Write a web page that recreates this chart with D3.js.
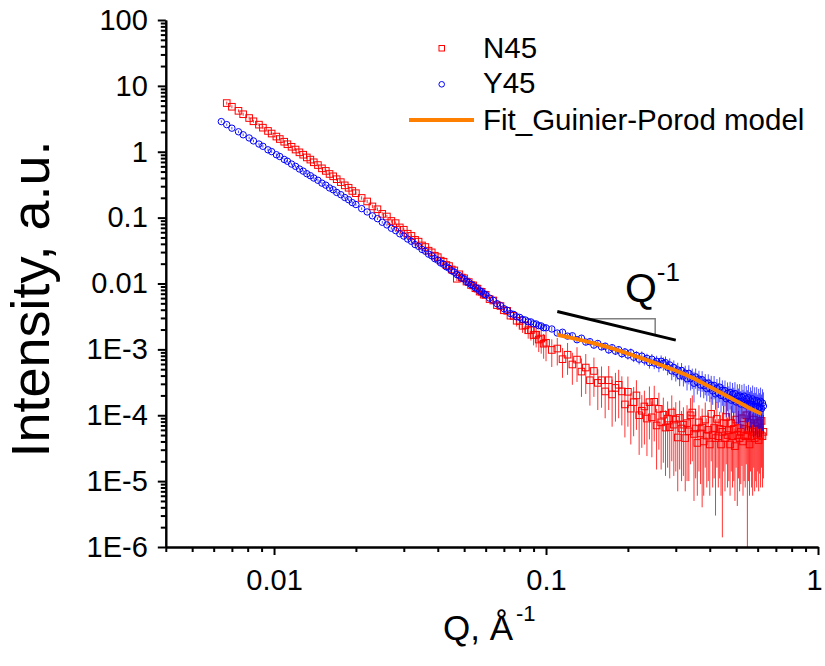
<!DOCTYPE html>
<html>
<head>
<meta charset="utf-8">
<script src="https://cdn.jsdelivr.net/npm/d3@7"></script>
<style>
body { margin: 0; background: #fff; }
text { font-family: "Liberation Sans", Arial, sans-serif; fill: #000; }
</style>
</head>
<body>
<script>
// N45 : [Q, I, error]
var n45 = [
[0.0067,5.48,0.30],[0.0070,4.82,0.26],[0.0074,4.18,0.22],[0.0077,3.71,0.20],[0.0081,3.25,0.17],
[0.0084,2.90,0.15],[0.0088,2.58,0.13],[0.0091,2.32,0.12],[0.0095,2.07,0.11],[0.0098,1.89,0.10],
[0.0102,1.70,0.09],[0.0105,1.56,0.08],[0.0109,1.42,0.07],[0.0112,1.30,0.07],[0.0116,1.19,0.06],
[0.0120,1.08,0.06],[0.0124,0.980,0.05],[0.0128,0.902,0.05],[0.0132,0.820,0.045],[0.0136,0.760,0.04],
[0.0140,0.692,0.04],[0.0145,0.628,0.035],[0.0150,0.560,0.03],[0.0155,0.512,0.03],[0.0160,0.460,0.025],
[0.0165,0.424,0.025],[0.0170,0.383,0.022],[0.0176,0.346,0.02],[0.0182,0.309,0.018],[0.0188,0.284,0.016],
[0.0194,0.254,0.015],[0.0200,0.235,0.014],
[0.021,0.199,0.012],[0.022,0.176,0.011],[0.023,0.148,0.009],[0.024,0.134,0.008],[0.025,0.114,0.007],
[0.026,0.104,0.006],[0.027,0.089,0.0055],[0.028,0.0825,0.005],[0.029,0.0710,0.0045],[0.030,0.0655,0.004],
[0.031,0.0570,0.0035],[0.032,0.0528,0.0032],[0.033,0.0460,0.0028],[0.034,0.0432,0.0026],[0.035,0.0378,0.0023],
[0.036,0.0358,0.0021],[0.037,0.0315,0.0019],[0.038,0.0297,0.0018],[0.039,0.0264,0.0016],[0.040,0.0251,0.0015],
[0.041,0.0222,0.0014],[0.042,0.0214,0.0013],[0.043,0.0191,0.0012],[0.044,0.0184,0.0011],[0.045,0.0163,0.0010],
[0.046,0.0158,0.0010],[0.047,0.0118,0.0009],[0.048,0.0138,0.0009],[0.049,0.0123,0.0008],[0.050,0.0120,0.0008],
[0.051,0.0107,0.0007],[0.052,0.0105,0.0007],[0.053,0.00950,0.0006],[0.054,0.00935,0.0006],[0.055,0.00848,0.0006],
[0.056,0.00835,0.0005],[0.057,0.00755,0.0005],[0.058,0.00748,0.0005],[0.059,0.00678,0.0005],[0.060,0.00672,0.0005],
[0.062,0.00580,0.0005],[0.064,0.00552,0.0005],[0.066,0.00470,0.0005],[0.068,0.00455,0.0005],[0.070,0.00392,0.0004],
[0.072,0.00385,0.0004],[0.074,0.00325,0.0004],[0.076,0.00322,0.0005],[0.078,0.00272,0.0005],[0.080,0.00270,0.0006],
[0.082,0.00228,0.0005],[0.084,0.00232,0.0006],[0.086,0.00195,0.0005],[0.088,0.00196,0.0006],[0.090,0.00165,0.0005],
[0.092,0.00167,0.0006],[0.094,0.00141,0.0005],[0.096,0.00146,0.0006],[0.098,0.00122,0.0005],[0.100,0.00126,0.0006],
[0.105,9.8e-4,4.4e-4],[0.110,1.03e-3,4.6e-4],[0.115,7.1e-4,3.4e-4],[0.120,8.3e-4,4.2e-4],[0.125,5.9e-4,3.0e-4],
[0.130,7.0e-4,3.8e-4],[0.135,4.6e-4,2.7e-4],[0.140,5.3e-4,3.2e-4],[0.145,3.4e-4,2.0e-4],[0.150,4.7e-4,2.8e-4],
[0.155,3.1e-4,1.9e-4],[0.160,3.4e-4,2.1e-4],[0.165,2.3e-4,1.4e-4],[0.170,3.4e-4,2.2e-4],[0.175,2.07e-4,1.4e-4],
[0.180,2.6e-4,1.8e-4],[0.185,2.9e-4,2.0e-4],[0.190,2.3e-4,1.6e-4],[0.195,1.46e-4,1.0e-4],[0.200,2.27e-4,1.6e-4],
[0.205,1.26e-4,0.9e-4],[0.210,1.58e-4,1.1e-4],[0.215,2.0e-4,1.4e-4],[0.220,1.0e-4,0.75e-4],[0.225,1.17e-4,0.85e-4],
[0.230,1.36e-4,1.0e-4],[0.235,8.9e-5,6.5e-5],[0.240,1.58e-4,1.15e-4],[0.245,9.3e-5,7.0e-5],[0.250,1.6e-4,1.2e-4],
[0.255,7.0e-5,5.5e-5],[0.260,1.25e-4,9.5e-5],[0.265,7.8e-5,6.3e-5],[0.270,1.02e-4,8.3e-5],[0.275,6.5e-5,5.3e-5],
[0.280,8.9e-5,7.3e-5],[0.285,6.6e-5,5.5e-5],[0.290,1.1e-4,9.0e-5],[0.295,7.2e-5,6.0e-5],[0.300,8.6e-5,7.2e-5],
[0.305,4.6e-5,3.9e-5],[0.310,9.1e-5,7.6e-5],[0.315,6.3e-5,5.3e-5],[0.320,7.2e-5,6.0e-5],[0.325,4.5e-5,3.8e-5],
[0.330,7.6e-5,6.6e-5],[0.335,5.7e-5,4.7e-5],[0.340,1.0e-4,8.2e-5],[0.345,1.1e-4,9.0e-5],[0.350,5.2e-5,4.7e-5],
[0.355,6.3e-5,5.2e-5],[0.360,3.8e-5,3.2e-5],[0.365,7.8e-5,6.4e-5],[0.370,5.3e-5,4.4e-5],[0.375,6.5e-5,6.1e-5],
[0.380,4.0e-5,3.4e-5],[0.385,8.6e-5,7.0e-5],[0.390,4.9e-5,4.1e-5],[0.395,6.0e-5,5.0e-5],[0.400,3.6e-5,3.0e-5],
[0.405,1.05e-4,8.5e-5],[0.410,5.0e-5,4.2e-5],[0.415,6.4e-5,5.3e-5],[0.420,4.5e-5,4.2e-5],[0.425,8.8e-5,7.2e-5],
[0.430,4.8e-5,4.0e-5],[0.435,6.2e-5,5.1e-5],[0.440,3.6e-5,3.0e-5],[0.445,5.6e-5,5.46e-5],[0.450,7.6e-5,6.2e-5],
[0.455,4.5e-5,3.8e-5],[0.460,9.4e-5,7.6e-5],[0.465,5.0e-5,4.2e-5],[0.470,5.9e-5,4.9e-5],[0.475,3.6e-5,3.0e-5],
[0.480,7.6e-5,6.2e-5],[0.485,4.8e-5,4.0e-5],[0.490,6.2e-5,5.2e-5],[0.495,3.4e-5,2.9e-5],[0.500,8.6e-5,7.0e-5],
[0.505,5.0e-5,4.58e-5],[0.510,6.4e-5,5.3e-5],[0.515,4.5e-5,3.8e-5],[0.520,5.6e-5,4.7e-5],[0.525,9.0e-5,7.3e-5],
[0.530,4.0e-5,3.4e-5],[0.535,6.2e-5,5.2e-5],[0.540,4.8e-5,4.0e-5],[0.545,1.0e-4,8.2e-5],[0.550,5.0e-5,4.99e-5],
[0.555,5.9e-5,4.9e-5],[0.560,3.6e-5,3.0e-5],[0.565,7.6e-5,6.2e-5],[0.570,4.8e-5,4.0e-5],[0.575,5.6e-5,5.0e-5],
[0.580,8.6e-5,7.0e-5],[0.585,4.5e-5,3.8e-5],[0.590,6.2e-5,5.2e-5],[0.595,5.0e-5,4.2e-5],[0.600,7.6e-5,6.2e-5],
[0.605,4.2e-5,3.5e-5],[0.610,5.9e-5,4.6e-5],[0.615,5.0e-5,4.2e-5],[0.620,8.2e-5,6.6e-5],[0.625,4.8e-5,4.0e-5],
[0.630,5.6e-5,4.5e-5]
];

// Y45 : [Q, I, error]
var y45 = [
[0.0064,2.87,0.12],[0.0067,2.58,0.11],[0.0070,2.28,0.10],[0.0074,2.01,0.09],[0.0077,1.81,0.08],
[0.0081,1.62,0.07],[0.0084,1.46,0.065],[0.0088,1.31,0.06],[0.0091,1.21,0.055],[0.0095,1.07,0.05],
[0.0098,1.005,0.045],[0.0102,0.902,0.04],[0.0105,0.846,0.04],[0.0109,0.764,0.035],[0.0112,0.718,0.033],
[0.0116,0.650,0.03],[0.0120,0.600,0.028],[0.0124,0.547,0.025],[0.0128,0.508,0.023],[0.0132,0.464,0.021],
[0.0136,0.433,0.02],[0.0140,0.399,0.018],[0.0145,0.369,0.017],[0.0150,0.334,0.015],[0.0155,0.311,0.014],
[0.0160,0.282,0.013],[0.0165,0.265,0.012],[0.0170,0.241,0.011],[0.0176,0.223,0.010],[0.0182,0.202,0.009],
[0.0188,0.187,0.0085],[0.0194,0.169,0.008],[0.0200,0.158,0.007],
[0.021,0.137,0.006],[0.022,0.122,0.0055],[0.023,0.1065,0.005],[0.024,0.0965,0.0045],[0.025,0.0850,0.004],
[0.026,0.0775,0.0035],[0.027,0.0690,0.003],[0.028,0.0635,0.0028],[0.029,0.0568,0.0025],[0.030,0.0525,0.0023],
[0.031,0.0473,0.0021],[0.032,0.0437,0.0019],[0.033,0.0390,0.0017],[0.034,0.0366,0.0016],[0.035,0.0329,0.0015],
[0.036,0.0309,0.0014],[0.037,0.0279,0.0013],[0.038,0.0263,0.0012],[0.039,0.0238,0.0011],[0.040,0.0226,0.0010],
[0.041,0.0205,0.0009],[0.042,0.0196,0.0009],[0.043,0.0179,0.0008],[0.044,0.0171,0.0008],[0.045,0.0156,0.0007],
[0.046,0.0149,0.0007],[0.047,0.0137,0.0006],[0.048,0.0132,0.0006],[0.049,0.0121,0.0006],[0.050,0.0117,0.0005],
[0.051,0.0107,0.0005],[0.052,0.0104,0.0005],[0.053,0.00962,0.0005],[0.054,0.00930,0.0004],[0.055,0.00860,0.0004],
[0.056,0.00832,0.0004],[0.057,0.00770,0.0004],[0.058,0.00750,0.0004],[0.059,0.00693,0.0003],[0.060,0.00676,0.0003],
[0.062,0.00600,0.0003],[0.064,0.00556,0.0003],[0.066,0.00494,0.0003],[0.068,0.00461,0.0003],[0.070,0.00415,0.0003],
[0.072,0.00391,0.0003],[0.074,0.00350,0.0003],[0.076,0.00340,0.0003],[0.078,0.00312,0.0002],[0.080,0.00306,0.0002],
[0.082,0.00284,0.0002],[0.084,0.00279,0.0002],[0.086,0.00262,0.0002],[0.088,0.00261,0.0002],[0.090,0.00244,0.0002],
[0.092,0.00243,0.0002],[0.094,0.00229,0.0002],[0.096,0.00227,0.0002],[0.098,0.00213,0.0002],[0.100,0.00212,0.0002],
[0.105,2.04e-3,1.6e-4],[0.110,1.77e-3,1.5e-4],[0.115,1.82e-3,1.5e-4],[0.120,1.59e-3,1.4e-4],[0.125,1.61e-3,1.4e-4],
[0.130,1.40e-3,1.3e-4],[0.135,1.48e-3,1.4e-4],[0.140,1.29e-3,1.3e-4],[0.145,1.31e-3,1.3e-4],[0.150,1.16e-3,1.2e-4],
[0.155,1.23e-3,1.3e-4],[0.160,1.09e-3,1.2e-4],[0.165,1.12e-3,1.3e-4],[0.170,9.8e-4,1.2e-4],[0.175,1.06e-3,1.3e-4],
[0.180,9.4e-4,1.2e-4],[0.185,9.9e-4,1.3e-4],[0.190,8.6e-4,1.2e-4],[0.195,9.15e-4,1.3e-4],[0.200,8.2e-4,1.2e-4],
[0.205,8.9e-4,1.4e-4],[0.210,7.6e-4,1.2e-4],[0.215,8.1e-4,1.3e-4],[0.220,7.1e-4,1.2e-4],[0.225,7.9e-4,1.4e-4],
[0.230,6.9e-4,1.2e-4],[0.235,7.3e-4,1.3e-4],[0.240,6.3e-4,1.2e-4],[0.245,7.1e-4,1.4e-4],[0.250,6.2e-4,1.2e-4],
[0.255,6.6e-4,1.4e-4],[0.260,5.8e-4,1.3e-4],[0.265,6.6e-4,1.5e-4],[0.270,6.15e-4,1.4e-4],[0.275,6.3e-4,1.5e-4],
[0.280,5.35e-4,1.3e-4],[0.285,5.8e-4,1.5e-4],[0.290,4.7e-4,1.3e-4],[0.295,5.3e-4,1.5e-4],[0.300,4.55e-4,1.3e-4],
[0.305,4.87e-4,1.4e-4],[0.310,3.96e-4,1.2e-4],[0.315,4.8e-4,1.4e-4],[0.320,3.93e-4,1.2e-4],[0.325,4.35e-4,1.3e-4],
[0.330,3.58e-4,1.2e-4],[0.335,4.33e-4,1.4e-4],[0.340,3.58e-4,1.2e-4],[0.345,3.80e-4,1.3e-4],[0.350,3.06e-4,1.5e-4],
[0.355,3.82e-4,1.3e-4],[0.360,3.17e-4,1.1e-4],[0.365,3.54e-4,1.2e-4],[0.370,2.87e-4,1.0e-4],[0.375,3.47e-4,1.2e-4],
[0.380,2.81e-4,1.0e-4],[0.385,3.11e-4,1.1e-4],[0.390,2.53e-4,0.9e-4],[0.395,3.08e-4,1.1e-4],[0.400,2.58e-4,1.0e-4],
[0.405,2.86e-4,1.1e-4],[0.410,2.34e-4,0.9e-4],[0.415,2.84e-4,1.1e-4],[0.420,2.11e-4,0.9e-4],[0.425,2.55e-4,1.0e-4],
[0.430,2.19e-4,0.9e-4],[0.435,2.67e-4,1.1e-4],[0.440,2.0e-4,0.9e-4],[0.445,2.39e-4,1.0e-4],[0.450,1.95e-4,0.9e-4],
[0.455,2.37e-4,1.0e-4],[0.460,1.78e-4,0.85e-4],[0.465,2.15e-4,1.0e-4],[0.470,1.85e-4,0.9e-4],[0.475,2.22e-4,1.0e-4],
[0.480,1.69e-4,0.85e-4],[0.485,2.09e-4,1.0e-4],[0.490,1.72e-4,0.9e-4],[0.495,2.13e-4,1.05e-4],[0.500,1.59e-4,0.85e-4],
[0.505,1.95e-4,1.0e-4],[0.510,1.64e-4,0.9e-4],[0.515,1.97e-4,1.0e-4],[0.520,1.48e-4,0.85e-4],[0.525,1.89e-4,1.0e-4],
[0.530,1.53e-4,0.9e-4],[0.535,1.95e-4,1.05e-4],[0.540,1.43e-4,0.85e-4],[0.545,1.77e-4,1.0e-4],[0.550,1.50e-4,0.9e-4],
[0.555,1.84e-4,1.05e-4],[0.560,1.40e-4,0.85e-4],[0.565,1.65e-4,1.0e-4],[0.570,1.45e-4,0.9e-4],[0.575,1.77e-4,1.05e-4],
[0.580,1.32e-4,0.85e-4],[0.585,1.66e-4,1.0e-4],[0.590,1.34e-4,0.85e-4],[0.595,1.67e-4,1.0e-4],[0.600,1.26e-4,0.8e-4],
[0.605,1.57e-4,0.95e-4],[0.610,1.32e-4,0.85e-4],[0.615,1.63e-4,1.0e-4],[0.620,1.26e-4,0.8e-4],[0.625,1.53e-4,0.95e-4],
[0.630,1.38e-4,0.85e-4]
];

// Guinier-Porod fit
var fitQ = [0.11, 0.13, 0.15, 0.17, 0.20, 0.23, 0.26, 0.30, 0.35, 0.40, 0.45, 0.50, 0.55, 0.60, 0.62];
var fitI = [1.67e-3, 1.43e-3, 1.24e-3, 1.07e-3, 8.6e-4, 7.1e-4, 5.9e-4, 4.75e-4, 3.6e-4, 2.7e-4, 2.08e-4, 1.65e-4, 1.33e-4, 1.12e-4, 1.05e-4];

// Q^-1 guide, in data units
var slopeLine = [[0.11, 3.76e-3], [0.30, 1.38e-3]];
var slopeGuide = [[0.1415, 2.92e-3], [0.252, 2.92e-3], [0.252, 1.64e-3]];

var xMajor = [0.01, 0.1, 1];
var xMajorLabels = ["0.01", "0.1", "1"];
var yMajor = [100, 10, 1, 0.1, 0.01, 1e-3, 1e-4, 1e-5, 1e-6];
var yMajorLabels = ["100", "10", "1", "0.1", "0.01", "1E-3", "1E-4", "1E-5", "1E-6"];

var seriesNames = ["N45", "Y45", "Fit_Guinier-Porod model"];

var red = "#ff0000", blue = "#0000ff", orange = "#ff8000";

var svg = d3.select("body").append("svg")
	.attr("width", 825)
	.attr("height", 666);

var x = d3.scaleLog().domain([0.004, 1]).range([165.8, 818]);
var y = d3.scaleLog().domain([1e-6, 100]).range([547, 20]);

// minor ticks 2..9 per decade
var xMinor = [], yMinor = [];
[0.001, 0.01, 0.1].forEach(function(d) {
	for (var k = 2; k <= 9; k++) {
		var v = +(k * d).toPrecision(3);
		if (v >= 0.004 && v <= 1) xMinor.push(v);
	}
});
[1e-6, 1e-5, 1e-4, 1e-3, 0.01, 0.1, 1, 10].forEach(function(d) {
	for (var k = 2; k <= 9; k++) yMinor.push(+(k * d).toPrecision(3));
});

svg.append("defs").append("clipPath").attr("id", "plotclip")
	.append("rect")
	.attr("x", x.range()[0])
	.attr("y", y.range()[1])
	.attr("width", x.range()[1] - x.range()[0])
	.attr("height", y.range()[0] - y.range()[1]);

var plot = svg.append("g").attr("clip-path", "url(#plotclip)");

function errLow(d) {
	return y(Math.max(d[1] - d[2], 1e-8));
}

// N45 error bars + squares
plot.append("g").selectAll("line")
	.data(n45).enter().append("line")
	.attr("x1", function(d) { return x(d[0]); })
	.attr("x2", function(d) { return x(d[0]); })
	.attr("y1", errLow)
	.attr("y2", function(d) { return y(d[1] + d[2]); })
	.style("stroke", red)
	.style("stroke-opacity", 0.8)
	.style("stroke-width", 1);

plot.append("g").selectAll("rect")
	.data(n45).enter().append("rect")
	.attr("x", function(d) { return x(d[0]) - 3.3; })
	.attr("y", function(d) { return y(d[1]) - 3.3; })
	.attr("width", 6.6)
	.attr("height", 6.6)
	.style("fill", "none")
	.style("stroke", red)
	.style("stroke-width", 1);

// Y45 error bars + circles
plot.append("g").selectAll("line")
	.data(y45).enter().append("line")
	.attr("x1", function(d) { return x(d[0]); })
	.attr("x2", function(d) { return x(d[0]); })
	.attr("y1", errLow)
	.attr("y2", function(d) { return y(d[1] + d[2]); })
	.style("stroke", blue)
	.style("stroke-opacity", 0.7)
	.style("stroke-width", 1);

plot.append("g").selectAll("circle")
	.data(y45).enter().append("circle")
	.attr("cx", function(d) { return x(d[0]); })
	.attr("cy", function(d) { return y(d[1]); })
	.attr("r", 3.2)
	.style("fill", "none")
	.style("stroke", blue)
	.style("stroke-width", 1);

// fit
var fitLine = d3.line()
	.x(function(d, i) { return x(fitQ[i]); })
	.y(function(d, i) { return y(fitI[i]); })
	.curve(d3.curveMonotoneX);

plot.append("path")
	.datum(fitQ)
	.attr("d", fitLine)
	.style("fill", "none")
	.style("stroke", orange)
	.style("stroke-width", 4);

// Q^-1 guide
var guide = d3.line()
	.x(function(d) { return x(d[0]); })
	.y(function(d) { return y(d[1]); });

svg.append("path").datum(slopeGuide).attr("d", guide)
	.style("fill", "none").style("stroke", "#808080").style("stroke-width", 1.5);
svg.append("path").datum(slopeLine).attr("d", guide)
	.style("fill", "none").style("stroke", "#000").style("stroke-width", 3);

var qLabel = svg.append("text")
	.attr("x", x(0.2) - 3)
	.attr("y", 302)
	.style("font-size", "41px");
qLabel.append("tspan").text("Q");
qLabel.append("tspan").attr("dy", -21).style("font-size", "26px").text("-1");

// axes
var xAxis = d3.axisBottom(x)
	.tickValues(xMajor)
	.tickFormat(function(d, i) { return xMajorLabels[i]; })
	.tickSize(8)
	.tickSizeOuter(0)
	.tickPadding(14);

var xAxisMinor = d3.axisBottom(x)
	.tickValues(xMinor)
	.tickFormat("")
	.tickSize(5)
	.tickSizeOuter(0);

var yAxis = d3.axisLeft(y)
	.tickValues(yMajor)
	.tickFormat(function(d, i) { return yMajorLabels[i]; })
	.tickSize(8)
	.tickSizeOuter(0)
	.tickPadding(10);

var yAxisMinor = d3.axisLeft(y)
	.tickValues(yMinor)
	.tickFormat("")
	.tickSize(5)
	.tickSizeOuter(0);

function styleAxis(g) {
	g.selectAll("path, line").style("stroke", "#000").style("stroke-width", 2);
	g.selectAll("text").style("font-size", "29px").style("font-family", '"Liberation Sans", Arial, sans-serif');
}

svg.append("g").attr("transform", "translate(0,547)").call(xAxisMinor).call(styleAxis);
var gx = svg.append("g").attr("transform", "translate(0,547)").call(xAxis).call(styleAxis);
// keep the last label inside the picture
gx.selectAll(".tick:last-of-type text").attr("dx", -4);
svg.append("g").attr("transform", "translate(165.8,0)").call(yAxisMinor).call(styleAxis);
svg.append("g").attr("transform", "translate(165.8,0)").call(yAxis).call(styleAxis);

// axis titles
svg.append("text")
	.attr("transform", "translate(49,299) rotate(-90)")
	.attr("text-anchor", "middle")
	.style("font-size", "54px")
	.text("Intensity, a.u.");

var xTitle = svg.append("text")
	.attr("x", 443)
	.attr("y", 640)
	.style("font-size", "35px");
xTitle.append("tspan").text("Q, \u00C5");
xTitle.append("tspan").attr("dy", -19).attr("dx", 3).style("font-size", "22px").text("-1");

// legend
var legend = svg.append("g");
legend.append("rect")
	.attr("x", 439).attr("y", 45.5).attr("width", 5.5).attr("height", 5.5)
	.style("fill", "none").style("stroke", red).style("stroke-width", 1);
legend.append("circle")
	.attr("cx", 441.7).attr("cy", 84.3).attr("r", 2.8)
	.style("fill", "none").style("stroke", blue).style("stroke-width", 1);
legend.append("line")
	.attr("x1", 409).attr("x2", 474).attr("y1", 120).attr("y2", 120)
	.style("stroke", orange).style("stroke-width", 4);
legend.selectAll("text.leg")
	.data(seriesNames).enter().append("text")
	.attr("class", "leg")
	.attr("x", 483)
	.attr("y", function(d, i) { return [58, 93, 130][i]; })
	.style("font-size", "29.5px")
	.text(function(d) { return d; });
</script>
</body>
</html>
